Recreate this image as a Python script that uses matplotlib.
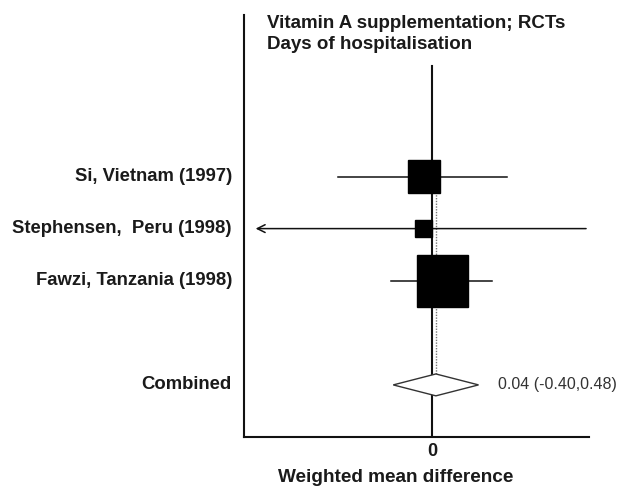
import matplotlib.pyplot as plt
from matplotlib.patches import Rectangle, Polygon

studies = ["Si, Vietnam (1997)", "Stephensen,  Peru (1998)", "Fawzi, Tanzania (1998)"]
est = [-0.08, -0.09, 0.11]
lower = [-0.97, -2.20, -0.42]
upper = [0.77, 1.59, 0.62]
weights = [26, 7, 67]  # percent

combined = 0.04
comb_lo = -0.40
comb_hi = 0.48
comb_label = "0.04 (-0.40,0.48)"

rows = [5, 4, 3]
comb_row = 1

plt.rcParams['font.family'] = ['Liberation Sans', 'DejaVu Sans']

fig = plt.figure(figsize=(6.17, 4.86), dpi=100)
ax = fig.add_axes([244 / 617, 49 / 486, 345 / 617, 422 / 486])
xmin, xmax = -1.94, 1.62
ax.set_xlim(xmin, xmax)
ax.set_ylim(0, 8.1)

ink = "#111111"
clip_x = -1.82

# line of no effect and pooled estimate
ax.plot([0, 0], [0, 7.12], color=ink, lw=1.5, zorder=2)
ax.plot([combined, combined], [comb_row, 5.2], color="#777777", lw=1.0,
        ls=(0, (1, 1)), zorder=1)

for r, e, lo, hi, w in zip(rows, est, lower, upper, weights):
    if lo < xmin:
        ax.annotate("", xy=(clip_x, r), xytext=(hi, r),
                    arrowprops=dict(arrowstyle="->", color=ink, lw=1.1,
                                    mutation_scale=14, shrinkA=0, shrinkB=0))
    else:
        ax.plot([lo, hi], [r, r], color=ink, lw=1.1, zorder=3)
    side = 6.3 * w ** 0.5  # pixels
    bw = side / 97.0
    bh = side / 52.0
    ax.add_patch(Rectangle((e - bw / 2, r - bh / 2), bw, bh, color="black", zorder=4))

# diamond
dh = 0.21
ax.add_patch(Polygon([(comb_lo, comb_row), (combined, comb_row + dh),
                      (comb_hi, comb_row), (combined, comb_row - dh)],
                     closed=True, facecolor="white", edgecolor="#333333",
                     lw=1.0, zorder=5))
ax.text(comb_hi + 0.2, comb_row, comb_label, fontsize=11.5, color="#333333",
        va="center", ha="left")

# row labels
for r, s in zip(rows, studies):
    ax.text(-0.035, r, s, transform=ax.get_yaxis_transform(), ha="right",
            va="center", fontsize=13.3, fontweight="bold", color="#1a1a1a")
ax.text(-0.035, comb_row, "Combined", transform=ax.get_yaxis_transform(),
        ha="right", va="center", fontsize=13.3, fontweight="bold", color="#1a1a1a")

for side in ["top", "right"]:
    ax.spines[side].set_visible(False)
for side in ["left", "bottom"]:
    ax.spines[side].set_linewidth(1.5)
    ax.spines[side].set_color(ink)
ax.set_yticks([])
ax.set_xticks([0])
ax.set_xticklabels(["0"], fontsize=13, fontweight="bold", color="#1a1a1a")
ax.tick_params(axis="x", length=0, pad=4)

fig.text(396 / 617, (486 - 477) / 486, "Weighted mean difference", ha="center",
         va="center", fontsize=13.7, fontweight="bold", color="#1a1a1a")
fig.text(267 / 617, 1 - 15 / 486, "Vitamin A supplementation; RCTs\nDays of hospitalisation",
         ha="left", va="top", fontsize=13.5, fontweight="bold", color="#1a1a1a",
         linespacing=1.32)

fig.savefig("out.png", dpi=100, facecolor="white")
